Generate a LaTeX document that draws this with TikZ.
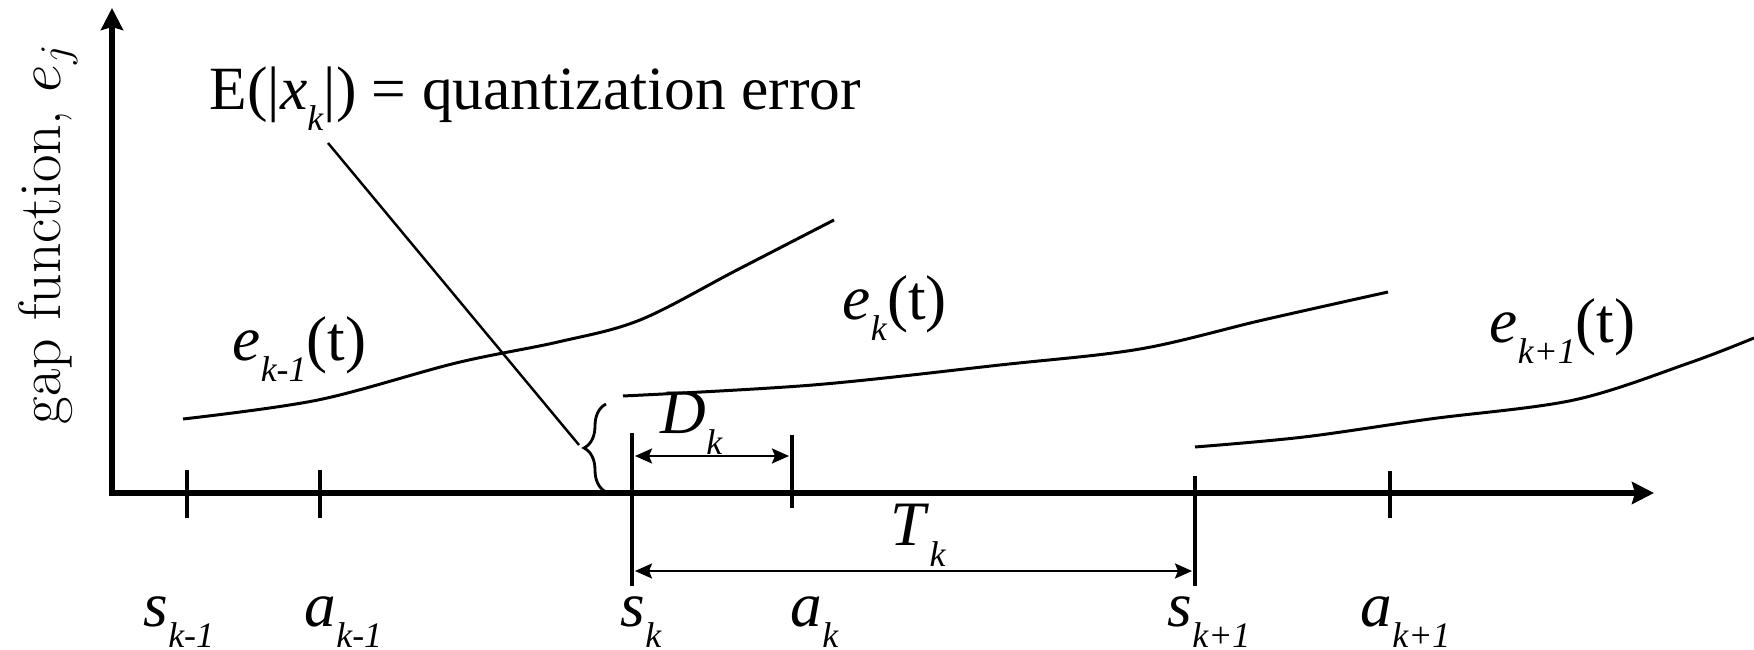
\documentclass[tikz,border=0pt]{standalone}
\usepackage{fontspec}
\newfontfamily\tms{Liberation Serif}
\usetikzlibrary{arrows.meta,decorations.pathreplacing}
\newcommand\mainsz{\fontsize{18}{20}\selectfont}
\newcommand\qesz{\fontsize{17.5}{20}\selectfont}
\newcommand\subsz{\fontsize{10.2}{12}\selectfont}
\newcommand\vsub[2]{\textit{#1}\raisebox{-5.7pt}{\subsz\textit{#2}}}
\begin{document}
\begin{tikzpicture}[x=0.1mm,y=-0.1mm,
  axisline/.style={line width=1.6pt,{Stealth[length=2.2mm,width=2.2mm,inset=0.3mm]}-{Stealth[length=2.2mm,width=2.2mm,inset=0.3mm]}},
  tickline/.style={line width=1.2pt},
  curveline/.style={line width=0.85pt},
  dimline/.style={line width=0.7pt,{Stealth[length=1.7mm,width=1.5mm,inset=0.3mm]}-{Stealth[length=1.7mm,width=1.5mm,inset=0.3mm]}},
  leader/.style={line width=0.7pt},
  bracestyle/.style={line width=0.8pt,decorate,decoration={brace,amplitude=2.2mm}},
  lbl/.style={inner sep=0pt,font=\tms\mainsz},
]
\useasboundingbox (0,0) rectangle (1754,650);
% axes
\coordinate (O) at (112,493);
\coordinate (ytop) at (112,8);
\coordinate (xend) at (1654,493);
\draw[axisline] (ytop) -- (O) -- (xend);
% ticks
\draw[tickline] (187,470) -- (187,518);
\draw[tickline] (320,470) -- (320,518);
\draw[tickline] (632,433) -- (632,586);
\draw[tickline] (792,435) -- (792,508);
\draw[tickline] (1195,476) -- (1195,586);
\draw[tickline] (1390,471) -- (1390,518);
% dimension arrows
\coordinate (dL) at (635,456);
\coordinate (dR) at (789,456);
\draw[dimline] (dL) -- (dR);
\coordinate (tL) at (635,571);
\coordinate (tR) at (1192,571);
\draw[dimline] (tL) -- (tR);
% curves
\draw[curveline] plot[smooth,tension=0.55] coordinates {(183,419) (318,400) (456,363) (558,342) (640,320) (737,270) (834,220)};
\draw[curveline] plot[smooth,tension=0.55] coordinates {(623,396) (813,385) (1000,365) (1140,349) (1263,320) (1388,292)};
\draw[curveline] plot[smooth,tension=0.55] coordinates {(1195,447) (1304,437) (1430,419) (1574,400) (1689,363) (1754,338)};
% brace
\coordinate (bB) at (606,492);
\coordinate (bT) at (606,404);
\draw[bracestyle] (bB) -- (bT);
% labels
\node[inner sep=0pt,font=\tms\qesz,anchor=base west] (qe) at (209,110) {E(|\vsub{x}{k}|) = quantization error};
\coordinate (lS) at (328,143);
\coordinate (lE) at (579,445);
\draw[leader] (lS) -- (lE);
\node[inner sep=0pt,rotate=90,anchor=base west,font=\fontsize{17}{20}\selectfont\addfontfeature{FakeBold=0.6}] (ylab) at (60,425) {gap function, $e_j$};
\node[lbl,anchor=base west] (ekm) at (232,361) {\vsub{e}{k-1}(t)};
\node[lbl,anchor=base west] (ek) at (842,320) {\vsub{e}{k}(t)};
\node[lbl,anchor=base west] (ekp) at (1489,343) {\vsub{e}{k+1}(t)};
\node[lbl,anchor=base west] (dk) at (660,434) {\vsub{D}{k}};
\node[lbl,anchor=base west] (tk) at (890,546) {\vsub{T}{k}};
\node[lbl,anchor=base west] (s1) at (143,627) {\vsub{s}{k-1}};
\node[lbl,anchor=base west] (a1) at (304,627) {\vsub{a}{k-1}};
\node[lbl,anchor=base west] (s2) at (620,627) {\vsub{s}{k}};
\node[lbl,anchor=base west] (a2) at (790,627) {\vsub{a}{k}};
\node[lbl,anchor=base west] (s3) at (1167,627) {\vsub{s}{k+1}};
\node[lbl,anchor=base west] (a3) at (1360,627) {\vsub{a}{k+1}};
\end{tikzpicture}
\end{document}
